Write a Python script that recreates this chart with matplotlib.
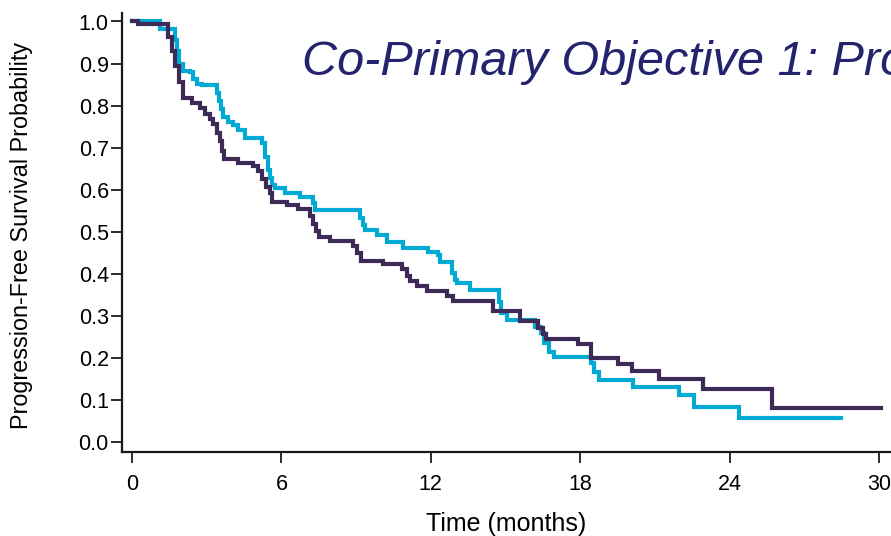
import matplotlib
matplotlib.use("Agg")
import matplotlib.pyplot as plt

# Kaplan-Meier step data (time in months, survival probability after each event)
purple_times = [0.0, 0.24, 1.45, 1.61, 1.73, 1.89, 2.05, 2.41, 2.73, 2.94, 3.14, 3.26,
                3.42, 3.54, 3.62, 3.70, 4.26, 4.87, 5.07, 5.23, 5.39, 5.55, 5.63, 6.23,
                6.68, 7.16, 7.28, 7.40, 7.52, 7.96, 8.89, 9.05, 9.21, 10.09, 10.86, 11.06,
                11.18, 11.46, 11.86, 12.67, 12.91, 14.48, 15.60, 16.32, 16.49, 16.61,
                17.93, 18.42, 19.50, 20.10, 21.15, 22.92, 25.69, 30.10]
purple_surv = [1.0, 0.993, 0.962, 0.931, 0.895, 0.855, 0.817, 0.807, 0.795, 0.781, 0.769,
               0.757, 0.736, 0.717, 0.693, 0.674, 0.664, 0.657, 0.645, 0.626, 0.607, 0.593,
               0.570, 0.564, 0.555, 0.538, 0.519, 0.502, 0.488, 0.477, 0.467, 0.450, 0.431,
               0.424, 0.412, 0.395, 0.383, 0.371, 0.360, 0.348, 0.336, 0.312, 0.288, 0.271,
               0.257, 0.245, 0.233, 0.200, 0.186, 0.169, 0.150, 0.126, 0.081, 0.081]

cyan_times = [0.0, 1.13, 1.73, 1.81, 1.89, 2.05, 2.33, 2.45, 2.61, 2.81, 3.42, 3.50, 3.58,
              3.66, 3.86, 4.06, 4.26, 4.54, 5.23, 5.35, 5.47, 5.55, 5.63, 5.75, 6.15, 6.76,
              7.28, 7.36, 9.17, 9.29, 9.37, 9.85, 10.25, 10.90, 11.90, 12.27, 12.38, 12.87,
              12.99, 13.07, 13.59, 14.72, 14.80, 15.08, 16.20, 16.41, 16.53, 16.73, 16.93,
              18.42, 18.54, 18.74, 20.14, 21.95, 22.56, 24.37, 28.47]
cyan_surv = [1.0, 0.983, 0.955, 0.931, 0.900, 0.883, 0.879, 0.864, 0.852, 0.848, 0.829,
             0.812, 0.793, 0.772, 0.760, 0.753, 0.741, 0.722, 0.710, 0.677, 0.646, 0.627,
             0.610, 0.603, 0.591, 0.582, 0.568, 0.551, 0.532, 0.515, 0.504, 0.492, 0.475,
             0.461, 0.451, 0.444, 0.428, 0.401, 0.385, 0.378, 0.361, 0.333, 0.306, 0.290,
             0.273, 0.259, 0.235, 0.214, 0.202, 0.188, 0.166, 0.147, 0.131, 0.112, 0.083,
             0.057, 0.057]

x_ticks = [0, 6, 12, 18, 24, 30]
y_ticks = [0.0, 0.1, 0.2, 0.3, 0.4, 0.5, 0.6, 0.7, 0.8, 0.9, 1.0]

plt.rcParams["font.family"] = ["Liberation Sans", "DejaVu Sans"]

W, H = 891, 536
fig = plt.figure(figsize=(W / 100, H / 100), dpi=100)
left, right, bottom, top = 122, 891, 452, 13
ax = fig.add_axes([left / W, 1 - bottom / H, (right - left) / W, (bottom - top) / H])

px_per_month = (879 - 132) / 30.0
x0 = -(132 - left) / px_per_month
x1 = (right - 132) / px_per_month
px_per_unit = 442 - 21.5
y0 = -(bottom - 442) / px_per_unit
y1 = 1.0 + (21.5 - top) / px_per_unit
ax.set_xlim(x0, x1)
ax.set_ylim(y0, y1)

purple = "#3d2a57"
cyan = "#00aad5"
ax.step(cyan_times, cyan_surv, where="post", color=cyan, lw=3.0, solid_joinstyle="miter",
        clip_on=False, zorder=3)
ax.step(purple_times, purple_surv, where="post", color=purple, lw=3.0,
        solid_joinstyle="miter", clip_on=False, zorder=4)

for s in ("top", "right"):
    ax.spines[s].set_visible(False)
for s in ("left", "bottom"):
    ax.spines[s].set_linewidth(1.6)
    ax.spines[s].set_color("#1a1a1a")

ax.set_xticks(x_ticks)
ax.set_xticklabels([str(t) for t in x_ticks], fontsize=15.5)
ax.set_yticks(y_ticks)
ax.set_yticklabels([f"{v:.1f}" for v in y_ticks], fontsize=15.5)
ax.tick_params(axis="both", direction="out", length=8, width=1.3, colors="#1a1a1a",
               labelcolor="black")
ax.tick_params(axis="x", pad=8)
ax.tick_params(axis="y", pad=1.5)

fig.text(506 / W, 1 - 524 / H, "Time (months)", fontsize=18, ha="center", va="center")
fig.text(22 / W, 1 - 235 / H, "Progression-Free Survival Probability", fontsize=16.8,
         rotation=90, ha="center", va="center")

fig.text(302 / W, 1 - 62 / H, "Co-Primary Objective 1: Pro",
         fontsize=35, style="italic", color="#23236e", va="center", ha="left")

fig.savefig("out.png", dpi=100)
